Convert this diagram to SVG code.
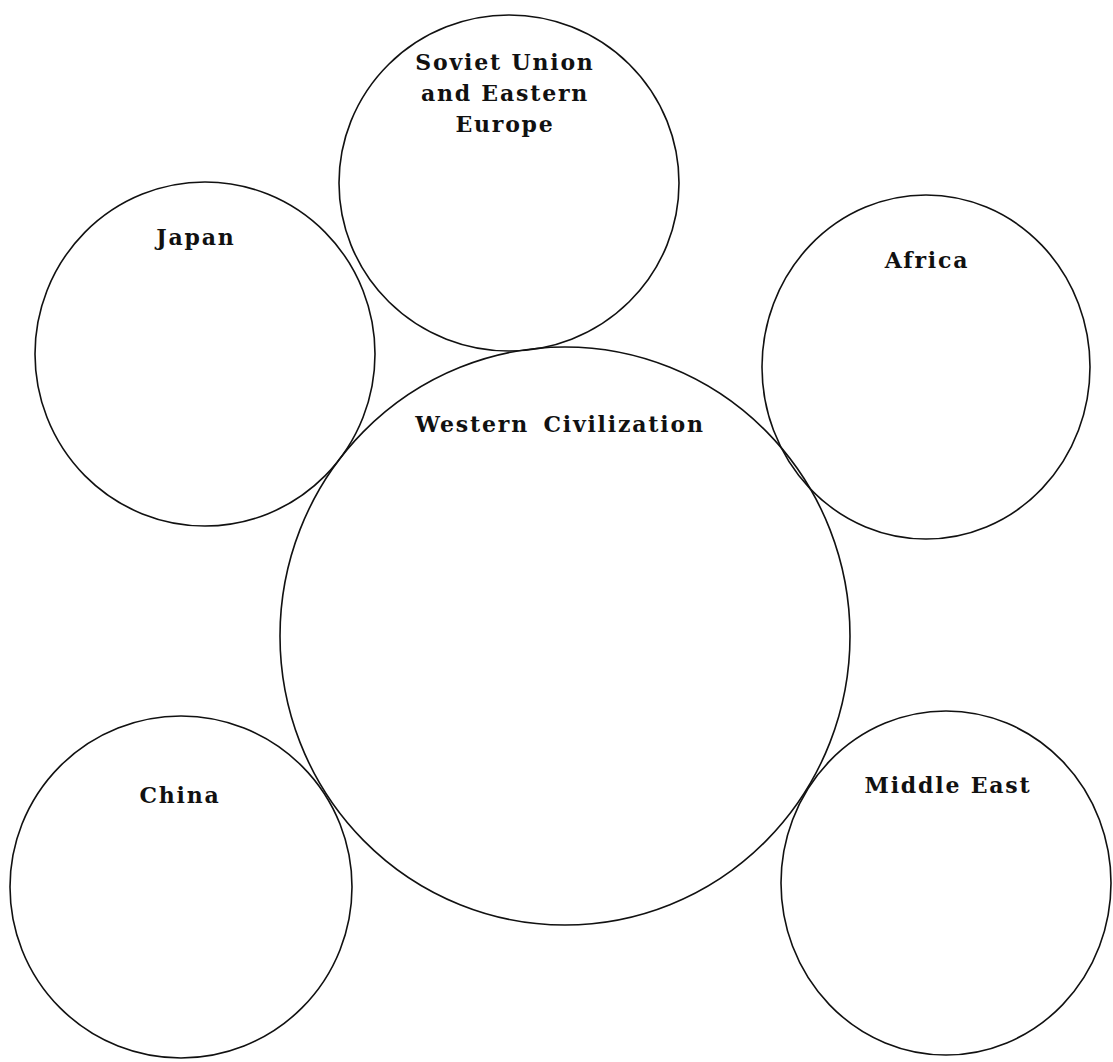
<svg xmlns="http://www.w3.org/2000/svg" width="1113" height="1062" viewBox="0 0 1113 1062">
<style>
.c{fill:none;stroke:#111;stroke-width:1.6}
.t{font-family:"DejaVu Serif","Liberation Serif",serif;font-weight:bold;font-size:22px;fill:#111;text-anchor:middle;letter-spacing:1.8px}
</style>
<rect width="1113" height="1062" fill="#fff"/>
<g id="western"><ellipse class="c" cx="565" cy="636" rx="285" ry="289"/><text class="t" x="560" y="432" word-spacing="5">Western Civilization</text></g>
<g id="soviet"><ellipse class="c" cx="509" cy="183" rx="170" ry="168"/><text class="t" x="505" y="70">Soviet Union</text><text class="t" x="505" y="101">and Eastern</text><text class="t" x="505" y="132">Europe</text></g>
<g id="japan"><ellipse class="c" cx="205" cy="354" rx="170" ry="172"/><text class="t" x="196" y="245">Japan</text></g>
<g id="africa"><ellipse class="c" cx="926" cy="367" rx="164" ry="172"/><text class="t" x="927" y="268">Africa</text></g>
<g id="china"><ellipse class="c" cx="181" cy="887" rx="171" ry="171"/><text class="t" x="180" y="803">China</text></g>
<g id="middleeast"><ellipse class="c" cx="946" cy="883" rx="165" ry="172"/><text class="t" x="948" y="793">Middle East</text></g>
<g id="connectors"></g>
</svg>
